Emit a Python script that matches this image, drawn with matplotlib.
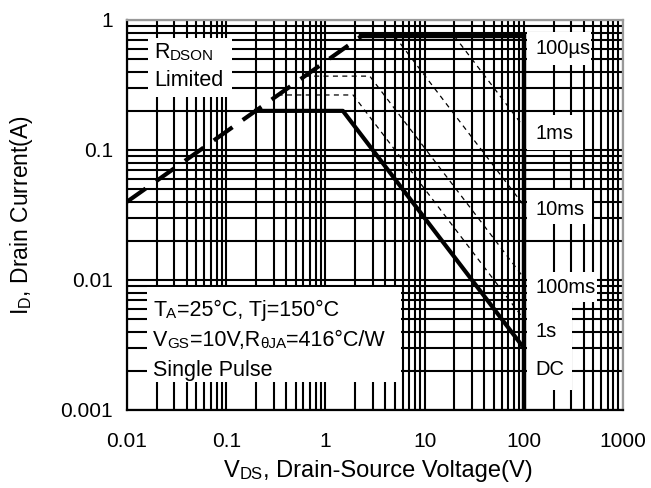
import numpy as np
import matplotlib
matplotlib.use('Agg')
import matplotlib.pyplot as plt
from matplotlib.ticker import LogLocator, NullFormatter, FixedLocator, FixedFormatter
from matplotlib.patches import Rectangle

plt.rcParams['font.family'] = ['Liberation Sans', 'DejaVu Sans']
plt.rcParams['mathtext.fontset'] = 'custom'
plt.rcParams['mathtext.rm'] = 'Liberation Sans'
plt.rcParams['mathtext.default'] = 'regular'

# safe operating area curves (V, A)
rdson_v = [0.01, 2.3]
rdson_i = [0.04, 0.75]
us100_v = [2.3, 100, 100]
us100_i = [0.75, 0.75, 0.001]
ms1_v = [20, 100]
ms1_i = [0.75, 0.15]
ms10_v = [5.0, 100]
ms10_i = [0.75, 0.0375]
ms100_v = [0.62, 2.8, 100]
ms100_i = [0.37, 0.37, 0.0104]
s1_v = [0.33, 1.9, 100]
s1_i = [0.265, 0.265, 0.005]
dc_v = [0.2, 1.5, 100]
dc_i = [0.2, 0.2, 0.003]

xticks = [0.01, 0.1, 1, 10, 100, 1000]
xticklabels = ['0.01', '0.1', '1', '10', '100', '1000']
yticks = [0.001, 0.01, 0.1, 1]
yticklabels = ['0.001', '0.01', '0.1', '1']

pulse_labels = ['100µs', '1ms', '10ms', '100ms', '1s', 'DC']
pulse_label_i = [0.60, 0.135, 0.0346, 0.0088, 0.0040, 0.00204]

fs_tick = 15
fs_lab = 14.5
fs_in = 15.5
fs_ax = 16.5
small = 11

fig = plt.figure(figsize=(6.51, 4.88), dpi=100)
ax = fig.add_axes([127/651, 1-410/488, 496/651, 390/488])
ax.set_xscale('log')
ax.set_yscale('log')
ax.set_xlim(0.01, 1000)
ax.set_ylim(0.001, 1)

ax.xaxis.set_major_locator(FixedLocator(xticks))
ax.xaxis.set_major_formatter(FixedFormatter(xticklabels))
ax.yaxis.set_major_locator(FixedLocator(yticks))
ax.yaxis.set_major_formatter(FixedFormatter(yticklabels))
for a in (ax.xaxis, ax.yaxis):
    a.set_minor_locator(LogLocator(base=10, subs=np.arange(2, 10), numticks=20))
    a.set_minor_formatter(NullFormatter())
ax.tick_params(which='both', length=0, labelsize=fs_tick)
ax.tick_params(axis='x', pad=16)
ax.tick_params(axis='y', pad=10)
ax.grid(which='both', color='black', lw=1.5, zorder=1)
ax.set_axisbelow(True)

for s in ['left', 'bottom']:
    ax.spines[s].set_color('black')
    ax.spines[s].set_linewidth(1.6)
for s in ['top', 'right']:
    ax.spines[s].set_color('#999999')
    ax.spines[s].set_linewidth(1.6)

# white label boxes (axes fraction)
boxes = [(0.042, 0.803, 0.170, 0.151),
         (0.040, 0.072, 0.512, 0.243),
         (0.806, 0.885, 0.129, 0.084),
         (0.806, 0.667, 0.113, 0.089),
         (0.806, 0.477, 0.131, 0.087),
         (0.806, 0.277, 0.142, 0.077),
         (0.806, 0.051, 0.091, 0.226)]
for bx, by, bw, bh in boxes:
    ax.add_patch(Rectangle((bx, by), bw, bh, transform=ax.transAxes,
                           facecolor='white', edgecolor='none', zorder=2))

ax.plot(rdson_v, rdson_i, color='black', lw=3, dashes=(5.5, 3), zorder=4)
ax.plot(us100_v, us100_i, color='black', lw=3.2, zorder=4, solid_joinstyle='miter')
for v, i in [(ms1_v, ms1_i), (ms10_v, ms10_i), (ms100_v, ms100_i), (s1_v, s1_i)]:
    ax.plot(v, i, color='black', lw=0.9, dashes=(4, 3.5), zorder=4)
ax.plot(dc_v, dc_i, color='black', lw=3, zorder=4)

for lab, yi in zip(pulse_labels, pulse_label_i):
    ax.text(130, yi, lab, fontsize=fs_lab, va='center', ha='left', zorder=5)


def rich(first, parts):
    t = first
    for txt, size in parts:
        t = ax.annotate(txt, xy=(1, 0), xycoords=t, fontsize=size,
                        va='bottom', ha='left', zorder=5, annotation_clip=False)
    return t


t0 = ax.text(0.055, 0.889, 'R', fontsize=fs_in, transform=ax.transAxes, va='bottom', zorder=5)
rich(t0, [('DSON', small)])
ax.text(0.055, 0.818, 'Limited', fontsize=fs_in, transform=ax.transAxes, va='bottom', zorder=5)
t0 = ax.text(0.053, 0.228, 'T', fontsize=fs_in, transform=ax.transAxes, va='bottom', zorder=5)
rich(t0, [('A', small), ('=25°C, Tj=150°C', fs_in)])
t0 = ax.text(0.053, 0.151, 'V', fontsize=fs_in, transform=ax.transAxes, va='bottom', zorder=5)
rich(t0, [('GS', small), ('=10V,R', fs_in), ('θJA', small), ('=416°C/W', fs_in)])
ax.text(0.053, 0.074, 'Single Pulse', fontsize=fs_in, transform=ax.transAxes, va='bottom', zorder=5)

fig.text(22/651, 1-215/488, r'I$_D$, Drain Current(A)', rotation=90,
         fontsize=fs_ax, va='center', ha='center')
t0 = fig.text(224/651, 1-482/488, 'V', fontsize=17, va='bottom', ha='left')
rich(t0, [('DS', 12), (', Drain-Source Voltage(V)', 17)])

fig.savefig('out.png', dpi=100)
